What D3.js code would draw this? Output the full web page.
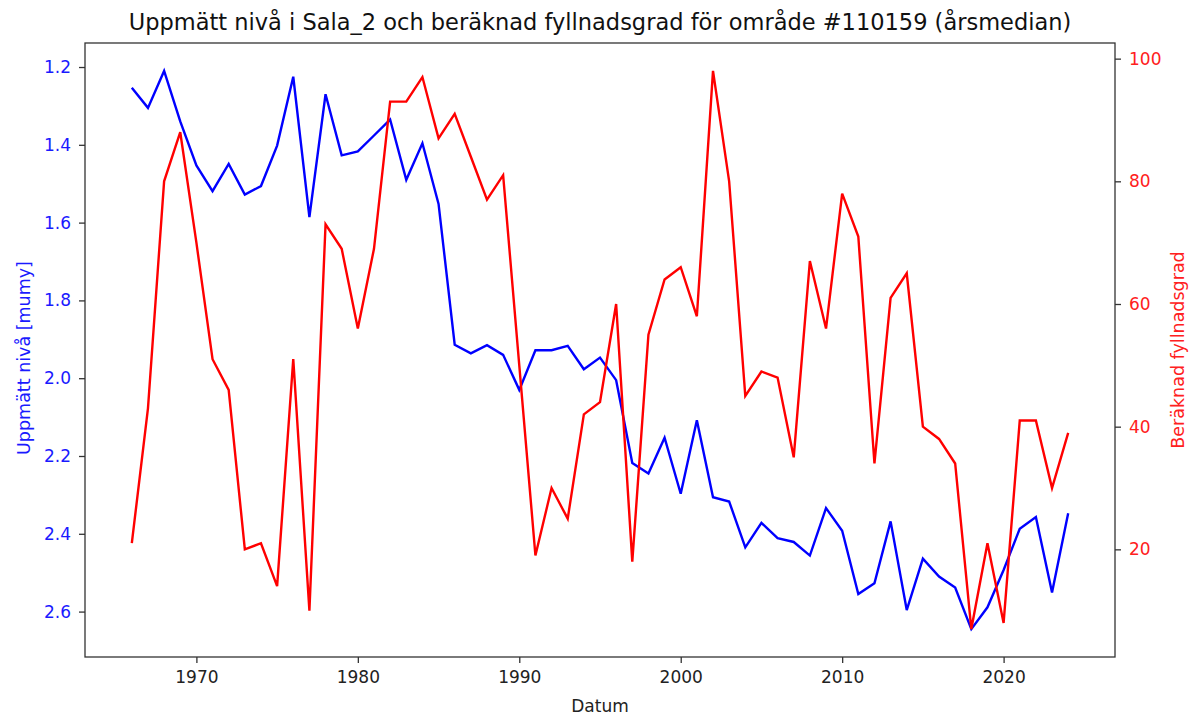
<!DOCTYPE html>
<html>
<head>
<meta charset="utf-8">
<script src="https://cdn.jsdelivr.net/npm/d3@7"></script>
<style>
    body { margin: 0; background: #fff; }
    svg { font-family: "DejaVu Sans", sans-serif; }
</style>
</head>
<body>
<div id="chart"></div>
<script>
document.addEventListener("DOMContentLoaded", function () {

    const years = d3.range(1966, 2025);

    // Uppmätt nivå (left axis, inverted)
    const level = [
        1.253, 1.305, 1.21, 1.34, 1.453, 1.519, 1.449, 1.528, 1.506, 1.402,
        1.225, 1.586, 1.27, 1.427, 1.417, 1.376, 1.335, 1.49, 1.396, 1.552,
        1.914, 1.936, 1.915, 1.94, 2.03, 1.928, 1.928, 1.917, 1.977, 1.947,
        2.005, 2.218, 2.245, 2.153, 2.297, 2.108, 2.306, 2.317, 2.435, 2.372,
        2.411, 2.421, 2.456, 2.334, 2.392, 2.555, 2.527, 2.368, 2.596, 2.464,
        2.51, 2.538, 2.645, 2.589, 2.493, 2.387, 2.357, 2.551, 2.347
    ];

    // Beräknad fyllnadsgrad (right axis)
    const fill = [
        21, 43, 80, 88, 70, 51, 46, 20, 21, 14,
        51, 10, 73, 69, 56, 69, 93, 93, 97, 87,
        91, 84, 77, 81, 50, 19, 30, 25, 42, 44,
        60, 18, 55, 64, 66, 58, 98, 80, 45, 49,
        48, 35, 67, 56, 78, 71, 34, 61, 65, 40,
        38, 34, 7, 21, 8, 41, 41, 30, 39
    ];

    const xTicks = [1970, 1980, 1990, 2000, 2010, 2020];
    const levelTicks = [1.2, 1.4, 1.6, 1.8, 2.0, 2.2, 2.4, 2.6];
    const fillTicks = [20, 40, 60, 80, 100];

    const W = 1203, H = 727,
        left = 85, right = 1115, top = 43, bottom = 657;

    // matplotlib-like 5% padding
    let pad = function (ext) {
        let d = (ext[1] - ext[0]) * 0.05;
        return [ext[0] - d, ext[1] + d];
    };

    const x = d3.scaleLinear().domain(pad(d3.extent(years))).range([left, right]);
    const yL = d3.scaleLinear().domain(pad(d3.extent(level))).range([top, bottom]);
    const yR = d3.scaleLinear().domain(pad(d3.extent(fill))).range([bottom, top]);

    const svg = d3.select("#chart").append("svg")
        .attr("width", W).attr("height", H);

    const axisCol = "#333";

    let styleAxis = function (g, col) {
        g.select(".domain").remove();
        g.selectAll(".tick line").attr("stroke", axisCol).attr("stroke-width", 1.3);
        g.selectAll(".tick text").attr("fill", col).attr("font-size", 17)
            .attr("font-family", "DejaVu Sans");
    };

    svg.append("g")
        .attr("transform", `translate(0,${bottom})`)
        .call(d3.axisBottom(x).tickValues(xTicks).tickFormat(d3.format("d")).tickSize(6).tickPadding(8))
        .call(g => styleAxis(g, "#222"));

    svg.append("g")
        .attr("transform", `translate(${left},0)`)
        .call(d3.axisLeft(yL).tickValues(levelTicks).tickFormat(d3.format(".1f")).tickSize(6).tickPadding(8))
        .call(g => styleAxis(g, "#1a1aff"));

    svg.append("g")
        .attr("transform", `translate(${right},0)`)
        .call(d3.axisRight(yR).tickValues(fillTicks).tickFormat(d3.format("d")).tickSize(6).tickPadding(8))
        .call(g => styleAxis(g, "#ff2020"));

    let lineL = d3.line().x((d, i) => x(years[i])).y(d => yL(d));
    let lineR = d3.line().x((d, i) => x(years[i])).y(d => yR(d));

    svg.append("path").datum(level)
        .attr("d", lineL).attr("fill", "none")
        .attr("stroke", "#0000ff").attr("stroke-width", 2.4);

    svg.append("path").datum(fill)
        .attr("d", lineR).attr("fill", "none")
        .attr("stroke", "#ff0000").attr("stroke-width", 2.4);

    // frame
    svg.append("rect")
        .attr("x", left).attr("y", top)
        .attr("width", right - left).attr("height", bottom - top)
        .attr("fill", "none").attr("stroke", axisCol).attr("stroke-width", 1.3);

    svg.append("text")
        .attr("x", (left + right) / 2).attr("y", 30)
        .attr("text-anchor", "middle").attr("font-size", 22.5).attr("fill", "#111")
        .text("Uppmätt nivå i Sala_2 och beräknad fyllnadsgrad för område #110159 (årsmedian)");

    svg.append("text")
        .attr("x", (left + right) / 2).attr("y", 712)
        .attr("text-anchor", "middle").attr("font-size", 17).attr("fill", "#222")
        .text("Datum");

    svg.append("text")
        .attr("transform", `translate(30,${(top + bottom) / 2 + 8}) rotate(-90)`)
        .attr("text-anchor", "middle").attr("font-size", 17.5).attr("fill", "#1a1aff")
        .text("Uppmätt nivå [mumy]");

    svg.append("text")
        .attr("transform", `translate(1184,${(top + bottom) / 2}) rotate(-90)`)
        .attr("text-anchor", "middle").attr("font-size", 17.5).attr("fill", "#ff2020")
        .text("Beräknad fyllnadsgrad");
});
</script>
</body>
</html>
